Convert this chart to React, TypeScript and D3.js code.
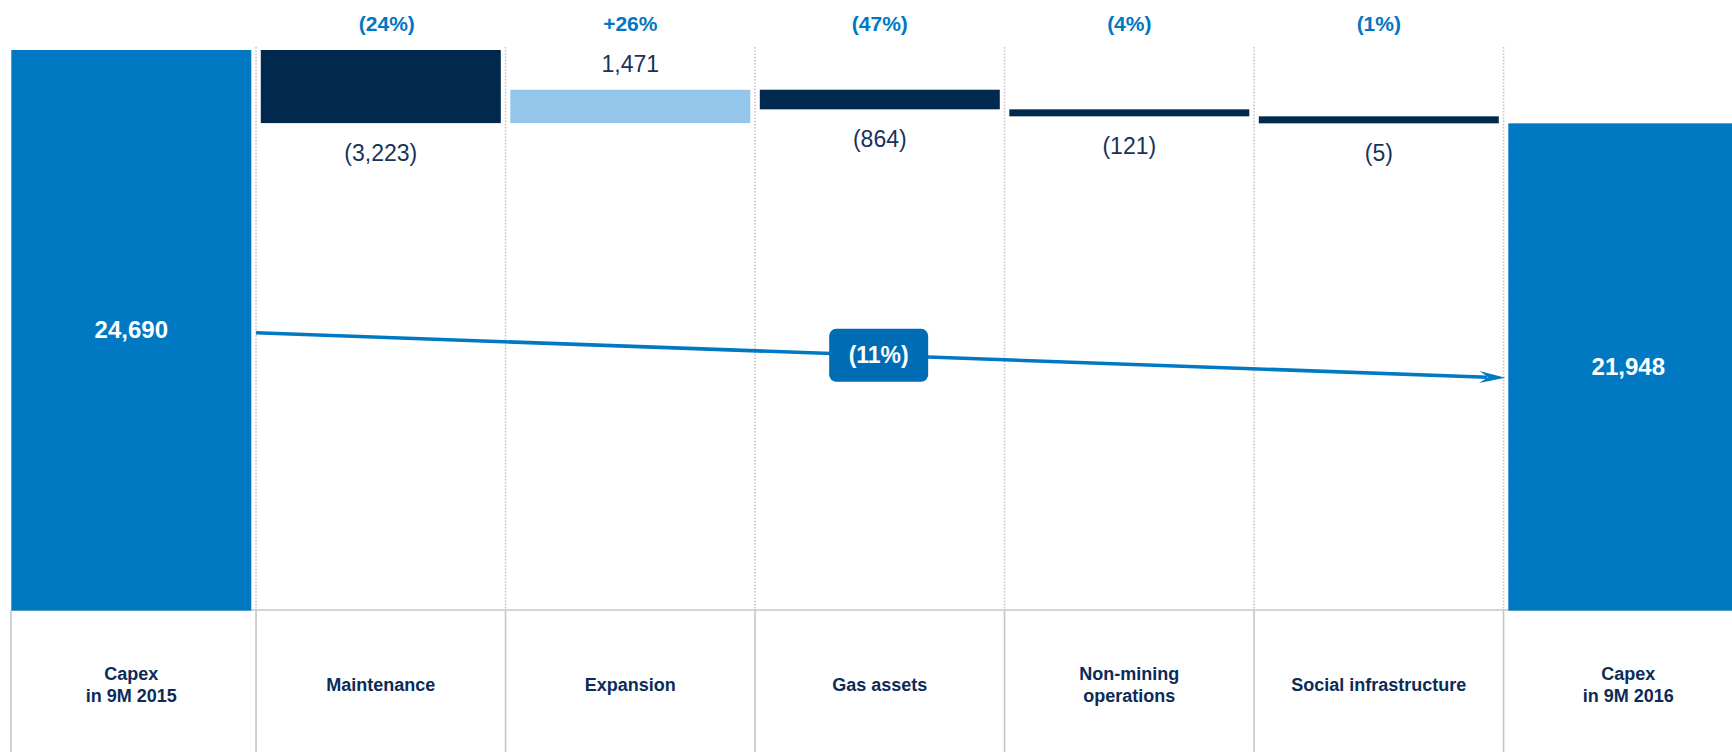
import React from "react";
import * as d3 from "d3";

// ---- data ----
const categories = [
  "Capex\nin 9M 2015",
  "Maintenance",
  "Expansion",
  "Gas assets",
  "Non-mining\noperations",
  "Social infrastructure",
  "Capex\nin 9M 2016",
];
const startValue = 24690;
const deltas = [-3223, 1471, -864, -121, -5];
const deltaPct = [-24, 26, -47, -4, -1];
const endValue = 21948;

// ---- style ----
const W = 1732;
const H = 752;
const PLOT_TOP = 50;
const BASE = 610;
const STEP = 249.5;
const GAP = 9.5;
const MIN_STEP_PX = 7;
const FONT = "'Liberation Sans', Arial, Helvetica, sans-serif";
const C_BLUE = "#0079C2";
const C_NAVY = "#00294D";
const C_LIGHT = "#94C6EC";
const C_PCT = "#0077C4";
const C_TEXT = "#0C2B57";
const C_VAL = "#16335A";
const C_GRID = "#C6C6C6";
const C_BOX = "#006CB3";

const fmtInt = d3.format(",");
const fmtDelta = (v: number) => (v < 0 ? `(${fmtInt(-v)})` : fmtInt(v));
const fmtPct = (v: number) => (v < 0 ? `(${Math.abs(v)}%)` : `+${v}%`);

export default function App() {
  const p = GAP / STEP;
  const x = d3
    .scaleBand<string>()
    .domain(categories)
    .range([1.8, 1.8 + STEP * (categories.length + p)])
    .paddingInner(p)
    .paddingOuter(p);
  const bw = x.bandwidth();
  const y = d3.scaleLinear().domain([0, startValue]).range([BASE, PLOT_TOP]);
  const px = (v: number) => y(0) - y(Math.abs(v));

  // cascade of floating bars (each step at least MIN_STEP_PX tall)
  let cur = y(startValue);
  const steps = deltas.map((d, i) => {
    const h = Math.max(MIN_STEP_PX, px(d));
    const from = cur;
    const to = d < 0 ? cur + h : cur - h;
    cur = to;
    return {
      cat: categories[i + 1],
      value: d,
      pct: deltaPct[i],
      top: Math.min(from, to),
      bottom: Math.max(from, to),
    };
  });
  const endTop = cur;

  const dividers = categories.slice(1).map((c) => (x(c) as number) - GAP / 2);
  const startX = x(categories[0]) as number;
  const endX = x(categories[categories.length - 1]) as number;
  const startTop = y(startValue);

  // overall change arrow
  const totalPct = Math.round(((endValue - startValue) / startValue) * 100);
  const ax0 = dividers[0];
  const ay0 = startTop + (BASE - startTop) * 0.505;
  const ax1 = endX - 3;
  const ay1 = endTop + (BASE - endTop) * 0.523;
  const ang = Math.atan2(ay1 - ay0, ax1 - ax0);
  const angDeg = (ang * 180) / Math.PI;
  const headLen = 26;
  const lineEndX = ax1 - 18 * Math.cos(ang);
  const lineEndY = ay1 - 18 * Math.sin(ang);
  const mx = (ax0 + ax1) / 2 - 2;
  const my = (ay0 + ay1) / 2;

  return (
    <svg
      width={W}
      height={H}
      style={{ position: "absolute", left: 0, top: 0, display: "block", background: "#fff" }}
      fontFamily={FONT}
    >
      {/* dotted dividers in the plot area */}
      {dividers.map((dx, i) => (
        <line
          key={"dot" + i}
          x1={dx}
          x2={dx}
          y1={47}
          y2={BASE}
          stroke={C_GRID}
          strokeWidth={1.6}
          strokeDasharray="1.6,1.6"
        />
      ))}
      {/* label grid */}
      <line x1={11} x2={W} y1={BASE} y2={BASE} stroke={C_GRID} strokeWidth={1.6} />
      <line x1={11} x2={11} y1={BASE} y2={H} stroke={C_GRID} strokeWidth={1.6} />
      {dividers.map((dx, i) => (
        <line key={"sol" + i} x1={dx} x2={dx} y1={BASE} y2={H} stroke={C_GRID} strokeWidth={1.6} />
      ))}

      {/* start & end bars */}
      <rect x={startX} y={startTop} width={bw} height={BASE + 0.6 - startTop} fill={C_BLUE} />
      <rect x={endX} y={endTop} width={bw} height={BASE + 0.6 - endTop} fill={C_BLUE} />
      <text
        x={startX + bw / 2}
        y={(startTop + BASE) / 2}
        dy="0.35em"
        textAnchor="middle"
        fill="#fff"
        fontWeight="bold"
        fontSize={24}
      >
        {fmtInt(startValue)}
      </text>
      <text
        x={endX + bw / 2}
        y={(endTop + BASE) / 2}
        dy="0.35em"
        textAnchor="middle"
        fill="#fff"
        fontWeight="bold"
        fontSize={24}
      >
        {fmtInt(endValue)}
      </text>

      {/* floating step bars */}
      {steps.map((s, i) => {
        const bx = x(s.cat) as number;
        return (
          <g key={"st" + i}>
            <rect
              x={bx}
              y={s.top}
              width={bw}
              height={s.bottom - s.top}
              fill={s.value < 0 ? C_NAVY : C_LIGHT}
            />
            <text
              x={bx + bw / 2}
              y={s.value < 0 ? s.bottom + 38 : s.top - 18}
              textAnchor="middle"
              fill={C_VAL}
              fontSize={23}
            >
              {fmtDelta(s.value)}
            </text>
            <text
              x={bx + bw / 2 + (i === 0 ? 6 : 0)}
              y={31}
              textAnchor="middle"
              fill={C_PCT}
              fontWeight="bold"
              fontSize={21}
            >
              {fmtPct(s.pct)}
            </text>
          </g>
        );
      })}

      {/* overall change arrow */}
      <line x1={ax0} y1={ay0} x2={lineEndX} y2={lineEndY} stroke={C_BLUE} strokeWidth={3.6} />
      <path
        d={`M0,0 L${-headLen},${-6} L${-17},0 L${-headLen},${6} Z`}
        transform={`translate(${ax1},${ay1}) rotate(${angDeg})`}
        fill={C_BLUE}
      />
      <rect x={mx - 49.5} y={my - 26.5} width={99} height={53} rx={7} ry={7} fill={C_BOX} />
      <text
        x={mx}
        y={my}
        dy="0.35em"
        textAnchor="middle"
        fill="#fff"
        fontWeight="bold"
        fontSize={23}
      >
        {fmtPct(totalPct)}
      </text>

      {/* category labels */}
      {categories.map((c, i) => {
        const lines = c.split("\n");
        const lh = 22;
        const cx = (x(c) as number) + bw / 2;
        const cy = 685;
        return (
          <text
            key={"cat" + i}
            x={cx}
            textAnchor="middle"
            fill={C_TEXT}
            fontWeight="bold"
            fontSize={18}
          >
            {lines.map((l, j) => (
              <tspan key={j} x={cx} y={cy + (j - (lines.length - 1) / 2) * lh} dy="0.35em">
                {l}
              </tspan>
            ))}
          </text>
        );
      })}
    </svg>
  );
}
